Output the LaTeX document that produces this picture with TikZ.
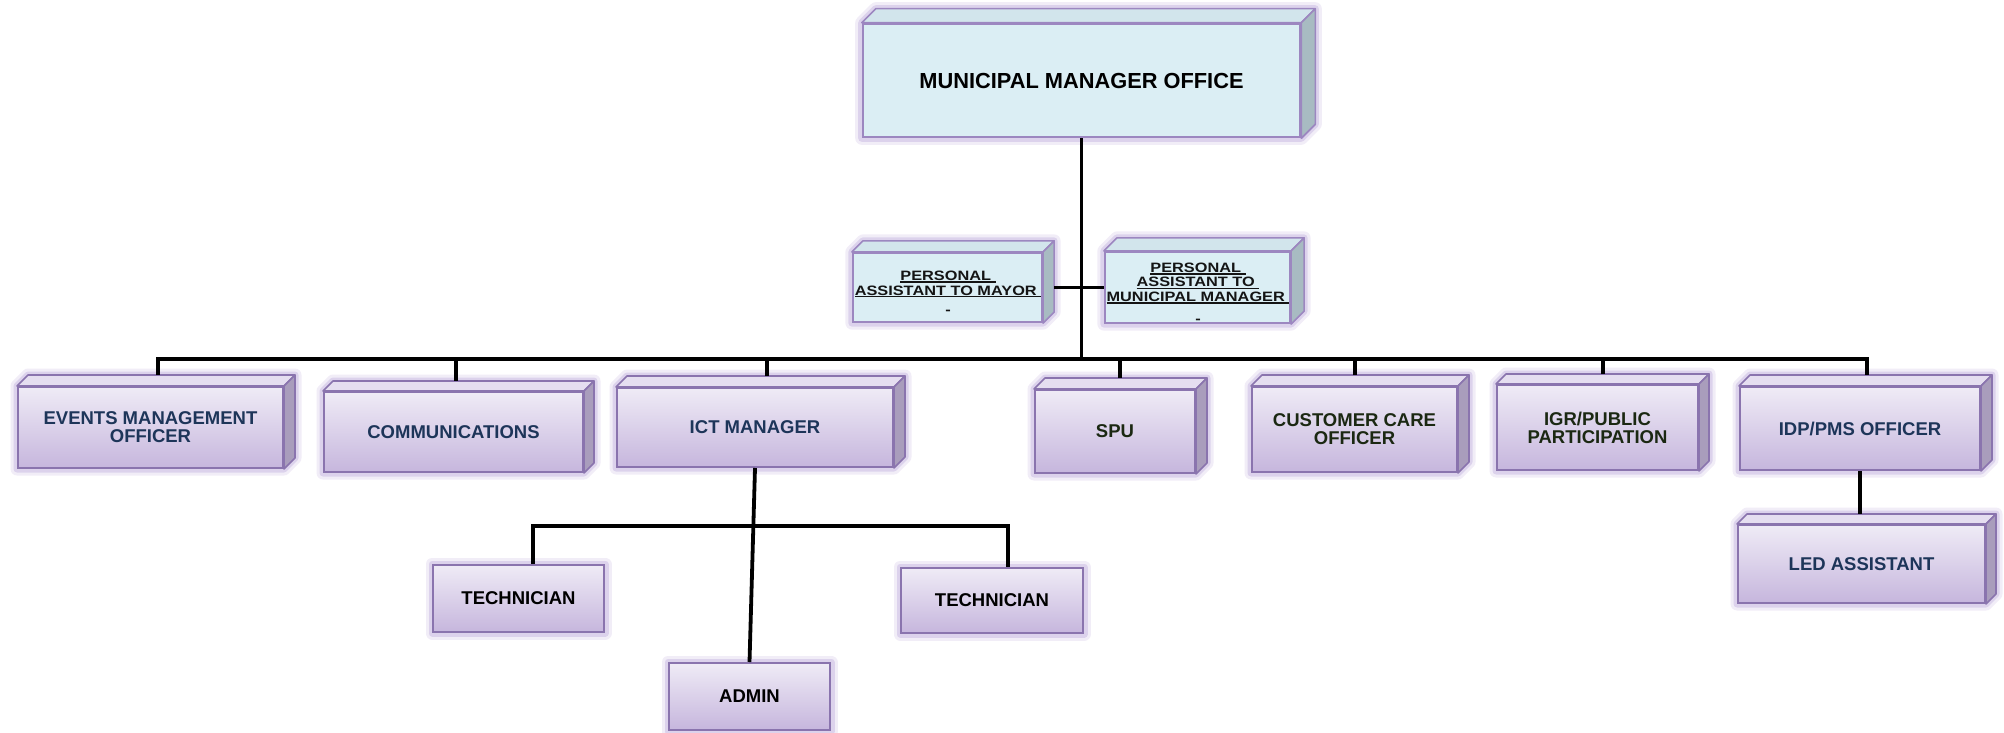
\documentclass[tikz,border=0pt]{standalone}
\usepackage{fontspec}
\setmainfont{Liberation Sans}
\newfontfamily\pafont{Liberation Sans}[FakeStretch=1.2]

\pgfdeclarelayer{background}
\pgfsetlayers{background,main}

\definecolor{mmoface}{HTML}{DBEEF4}
\definecolor{mmotop}{HTML}{D2E5EC}
\definecolor{mmoside}{HTML}{A8BBC2}
\definecolor{edgeviolet}{HTML}{9C87C0}
\definecolor{lvtop}{HTML}{EFEBF6}
\definecolor{lvbot}{HTML}{C6B6DD}
\definecolor{lvtopface}{HTML}{E5DEF0}
\definecolor{lvside}{HTML}{A99DBC}
\definecolor{lvedge}{HTML}{8A74AE}
\definecolor{glowc}{HTML}{9A7EC9}
\definecolor{navytext}{HTML}{1D3559}
\definecolor{greentext}{HTML}{1B2812}

% underline that also covers a trailing space
\newcommand\padul[1]{\setbox0\hbox{#1}\leavevmode\rlap{\rule[-2.2pt]{\wd0}{1.4pt}}\box0}

% top and side faces of an extruded box, plus its soft glow
\newcommand\mkdepth[5]{%
  \begin{pgfonlayer}{background}
    \path[glowline] (#1.south west) -- (#1.north west)
      -- ([shift={(#2,-#2)}]#1.north west) -- ([shift={(#2,-#2)}]#1.north east)
      -- ([shift={(#2,-#2)}]#1.south east) -- (#1.south east) -- cycle;
    \filldraw[fill=#3, draw=#5, line width=1.6, line join=round]
      (#1.north west) -- ([shift={(#2,-#2)}]#1.north west)
      -- ([shift={(#2,-#2)}]#1.north east) -- (#1.north east) -- cycle;
    \filldraw[fill=#4, draw=#5, line width=1.6, line join=round]
      (#1.north east) -- ([shift={(#2,-#2)}]#1.north east)
      -- ([shift={(#2,-#2)}]#1.south east) -- (#1.south east) -- cycle;
  \end{pgfonlayer}}

% glow behind a flat box
\newcommand\mkglow[1]{%
  \begin{pgfonlayer}{background}
    \path[glowline] (#1.south west) rectangle (#1.north east);
  \end{pgfonlayer}}

\begin{document}
\begin{tikzpicture}[
  x=1pt, y=-1pt,
  conn/.style={draw=black, line width=3.8},
  glowline/.style={draw=glowc, line width=13, opacity=0.14, line join=round,
    preaction={draw=glowc, line width=7, opacity=0.24, line join=round}},
  mmobox/.style={rectangle, draw=edgeviolet, line width=2.6, fill=mmoface,
    inner sep=0pt, align=center, text=black,
    font=\fontsize{21.8}{24}\selectfont\bfseries},
  pabox/.style={rectangle, draw=edgeviolet, line width=2.2, fill=mmoface,
    inner sep=0pt},
  patext/.style={inner sep=0pt, align=center, text=black!92,
    font=\pafont\fontsize{13.6}{14.6}\selectfont\bfseries},
  lvbox/.style={rectangle, draw=lvedge, line width=2, top color=lvtop,
    bottom color=lvbot, inner sep=0pt, align=center, text=navytext,
    font=\fontsize{18.5}{18}\selectfont\bfseries},
  greenlabel/.style={text=greentext},
  blacklabel/.style={text=black},
]
\useasboundingbox (0,0) rectangle (2004,733);

% ---------- top office ----------
\node[mmobox, minimum width=437, minimum height=113] (mmo) at (1081.5,80.5)
  {MUNICIPAL MANAGER OFFICE};
\mkdepth{mmo}{14}{mmotop}{mmoside}{edgeviolet}

% ---------- personal assistants ----------
\node[pabox, minimum width=189, minimum height=69] (pam) at (947.5,287.5) {};
\mkdepth{pam}{11}{mmotop}{mmoside}{edgeviolet}
\node[patext] (pamlabel) at (948,293)
  {\padul{PERSONAL\ }\\\padul{ASSISTANT TO MAYOR\ }\\[5pt]-};
\node[pabox, minimum width=185, minimum height=71] (pamm) at (1197.5,287.5) {};
\mkdepth{pamm}{13}{mmotop}{mmoside}{edgeviolet}
\node[patext] (pammlabel) at (1198,293)
  {\padul{PERSONAL\ }\\\padul{ASSISTANT TO\ }\\\padul{MUNICIPAL MANAGER\ }\\[7pt]-};

% ---------- second level ----------
\node[lvbox, minimum width=265, minimum height=81] (events) at (150.5,427.5)
  {EVENTS MANAGEMENT\\OFFICER};
\mkdepth{events}{11}{lvtopface}{lvside}{lvedge}
\node[lvbox, minimum width=259, minimum height=80] (comms) at (453.5,432)
  {COMMUNICATIONS};
\mkdepth{comms}{10}{lvtopface}{lvside}{lvedge}
\node[lvbox, minimum width=276, minimum height=79] (ict) at (755,427.5)
  {ICT MANAGER};
\mkdepth{ict}{11}{lvtopface}{lvside}{lvedge}
\node[lvbox, greenlabel, minimum width=160, minimum height=83] (spu) at (1115,431.5)
  {SPU};
\mkdepth{spu}{11}{lvtopface}{lvside}{lvedge}
\node[lvbox, greenlabel, minimum width=205, minimum height=85] (care) at (1354.5,429.5)
  {CUSTOMER CARE\\OFFICER};
\mkdepth{care}{11}{lvtopface}{lvside}{lvedge}
\node[lvbox, greenlabel, minimum width=201, minimum height=85] (igr) at (1597.5,427.5)
  {IGR/PUBLIC\\PARTICIPATION};
\mkdepth{igr}{10}{lvtopface}{lvside}{lvedge}
\node[lvbox, minimum width=240, minimum height=83] (idp) at (1860,428.5)
  {IDP/PMS OFFICER};
\mkdepth{idp}{11}{lvtopface}{lvside}{lvedge}

% ---------- third level ----------
\node[lvbox, minimum width=247, minimum height=78] (led) at (1861.5,564)
  {LED ASSISTANT};
\mkdepth{led}{10}{lvtopface}{lvside}{lvedge}
\node[lvbox, blacklabel, minimum width=171, minimum height=67] (techl) at (518.5,598.5)
  {TECHNICIAN};
\mkglow{techl}
\node[lvbox, blacklabel, minimum width=182, minimum height=65] (techr) at (992,600.5)
  {TECHNICIAN};
\mkglow{techr}
\node[lvbox, blacklabel, minimum width=161, minimum height=67] (admin) at (749.5,696.5)
  {ADMIN};
\mkglow{admin}

% ---------- connector end points on the top faces ----------
\coordinate (bus) at (0,359);
\coordinate (sub) at (0,526);
\coordinate (evT)   at ([shift={(7.5,-11)}]events.north);
\coordinate (coT)   at ([shift={(2.5,-10)}]comms.north);
\coordinate (icT)   at ([shift={(12,-11)}]ict.north);
\coordinate (spT)   at ([shift={(5,-11)}]spu.north);
\coordinate (caT)   at ([shift={(0.5,-11)}]care.north);
\coordinate (igT)   at ([shift={(5.5,-10)}]igr.north);
\coordinate (idT)   at ([shift={(7,-11)}]idp.north);
\coordinate (leT)   at ([shift={(1.5,-10)}]led.north);
\coordinate (tlT)   at ([xshift=14.5]techl.north);
\coordinate (trT)   at ([xshift=16]techr.north);

% ---------- connectors ----------
\draw[conn] (mmo.south) -- (mmo.south |- bus);
\draw[conn] ([xshift=11]pam.east) -- (pamm.west);
\draw[conn] (evT) |- (bus -| idT) -- (idT);
\draw[conn] (coT) -- (coT |- bus);
\draw[conn] (icT) -- (icT |- bus);
\draw[conn] (spT) -- (spT |- bus);
\draw[conn] (caT) -- (caT |- bus);
\draw[conn] (igT) -- (igT |- bus);
\draw[conn] (ict.south) -- (admin.north);
\draw[conn] (tlT) |- (sub -| trT) -- (trT);
\draw[conn] (idp.south) -- (idp.south |- leT);
\end{tikzpicture}
\end{document}
